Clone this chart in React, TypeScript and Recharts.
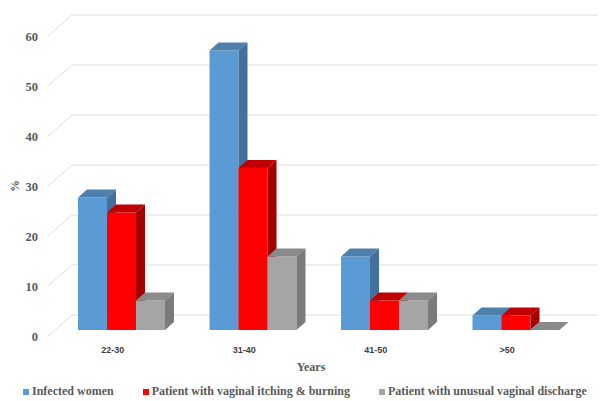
import React from 'react';
import { BarChart, Bar, XAxis, YAxis, CartesianGrid, Legend } from 'recharts';

// Age groups and percentages
const categories = ['22-30', '31-40', '41-50', '>50'];
const infected = [26.5, 55.9, 14.7, 2.9];
const itching = [23.5, 32.4, 5.9, 2.9];
const discharge = [5.9, 14.7, 5.9, 0];
const yTicks = [0, 10, 20, 30, 40, 50, 60];

const seriesNames = [
  'Infected women',
  'Patient with vaginal itching & burning',
  'Patient with unusual vaginal discharge',
];

const data = categories.map((name, i) => ({
  name,
  infected: infected[i],
  itching: itching[i],
  discharge: discharge[i],
}));

const SERIF = 'Liberation Serif, Times New Roman, Times, serif';

// 3D depth of the bars
const DX = 9;
const DY = 8;

const makeShape = (front: string, top: string, side: string) => (props: any) => {
  const { x, y, width, height } = props;
  if (x == null || y == null) return <g />;
  return (
    <g>
      <rect x={x} y={y} width={width} height={height} fill={front} />
      <polygon
        points={`${x},${y} ${x + DX},${y - DY} ${x + width + DX},${y - DY} ${x + width},${y}`}
        fill={top}
      />
      <polygon
        points={`${x + width},${y} ${x + width + DX},${y - DY} ${x + width + DX},${y + height - DY} ${x + width},${y + height}`}
        fill={side}
      />
    </g>
  );
};

const gridLine = (p: any) => {
  const { x1, y1, x2 } = p;
  return (
    <g key={p.key}>
      <line x1={x1 - 8} y1={y1 + 6} x2={x1 + 16} y2={y1 - 15} stroke="#DEDEDE" strokeWidth={1} />
      <line x1={x1 + 16} y1={y1 - 15} x2={x2 + 16} y2={y1 - 15} stroke="#DEDEDE" strokeWidth={1} />
    </g>
  );
};

const YTick = (props: any) => {
  const { y, payload } = props;
  return (
    <text x={38} y={y + 10.5} textAnchor="end" style={{ fontFamily: SERIF }} fontWeight="bold" fontSize={12.5} fill="#595959">
      {payload.value}
    </text>
  );
};

const XTick = (props: any) => {
  const { x, y, payload } = props;
  return (
    <text x={x - 9} y={y + 23} textAnchor="middle" style={{ fontFamily: 'Liberation Sans, Arial, sans-serif' }} fontWeight="bold" fontSize={9} fill="#404040">
      {payload.value}
    </text>
  );
};

const legendColors = ['#5B9BD5', '#FF0000', '#A5A5A5'];

const renderLegend = () => (
  <div style={{ display: 'flex', alignItems: 'center', paddingLeft: 23, fontFamily: SERIF, fontWeight: 'bold', fontSize: 12, color: '#595959', whiteSpace: 'nowrap' }}>
    {seriesNames.map((n, i) => (
      <div key={n} style={{ display: 'flex', alignItems: 'center', marginRight: 29 }}>
        <span style={{ display: 'inline-block', width: 6, height: 6, background: legendColors[i], marginRight: 3 }} />
        <span>{n}</span>
      </div>
    ))}
  </div>
);

export default function App() {
  return (
    <div style={{ position: 'absolute', left: 0, top: 0, width: 600, height: 401, background: '#fff' }}>
      <BarChart
        width={600}
        height={401}
        data={data}
        margin={{ top: 30, right: 18, left: 0, bottom: 31 }}
        barGap={0}
      >
        <CartesianGrid vertical={false} horizontal={gridLine} />
        <XAxis
          dataKey="name"
          height={40}
          axisLine={false}
          tickLine={false}
          tickSize={0}
          tickMargin={0}
          tick={<XTick />}
          label={() => (
            <text x={311} y={371} textAnchor="middle" style={{ fontFamily: SERIF }} fontWeight="bold" fontSize={12} fill="#595959">
              Years
            </text>
          )}
        />
        <YAxis
          width={56}
          domain={[0, 60]}
          ticks={yTicks}
          axisLine={false}
          tickLine={false}
          tick={<YTick />}
          label={() => (
            <text x={16} y={186} transform="rotate(-90 16 186)" textAnchor="middle" dominantBaseline="middle" style={{ fontFamily: SERIF }} fontWeight="bold" fontSize={12} fill="#595959">
              %
            </text>
          )}
        />
        <Legend
          content={renderLegend}
          wrapperStyle={{ top: 384, left: 0, width: 600, height: 0, overflow: 'visible' }}
        />
        <Bar dataKey="infected" name={seriesNames[0]} barSize={29} isAnimationActive={false}
          shape={makeShape('#5B9BD5', '#4E80AB', '#41719C')} />
        <Bar dataKey="itching" name={seriesNames[1]} barSize={29} isAnimationActive={false}
          shape={makeShape('#FF0000', '#C00000', '#A50000')} />
        <Bar dataKey="discharge" name={seriesNames[2]} barSize={29} isAnimationActive={false}
          shape={makeShape('#A5A5A5', '#8A8A8A', '#7B7B7B')} />
      </BarChart>
    </div>
  );
}
